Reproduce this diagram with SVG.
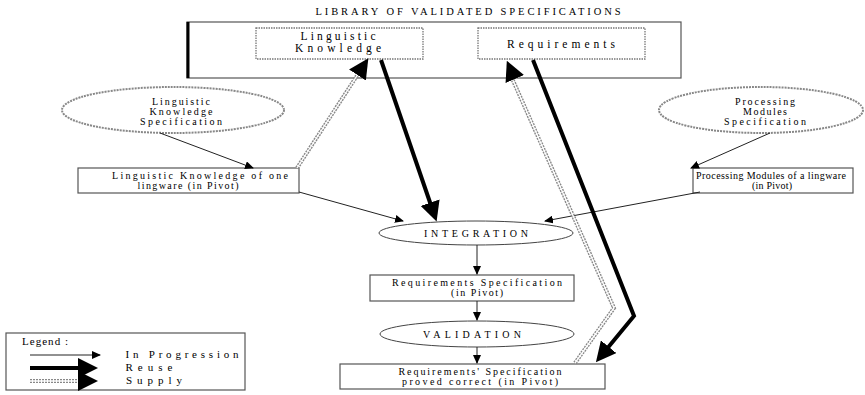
<svg xmlns="http://www.w3.org/2000/svg" width="865" height="395" viewBox="0 0 865 395">
  <defs>
    <style>
      text { font-family: "Liberation Serif", "Times New Roman", serif; fill: #000; text-anchor: middle; }
      .t9 { font-size: 10px; }
      .t10 { font-size: 11.5px; }
      .tl { font-size: 11px; }
      .box { fill: #fff; stroke: #555; stroke-width: 1.2; }
      .dotbox { fill: none; stroke: #777; stroke-width: 1.3; stroke-dasharray: 1.5 1; }
      .spec { fill: #fff; stroke: #888; stroke-width: 2; stroke-dasharray: 2 1; }
      .oval { fill: #fff; stroke: #444; stroke-width: 1; }
      .thin { fill: none; stroke: #222; stroke-width: 1; }
      .reuse { fill: none; stroke: #000; stroke-width: 4; }
      .supply { fill: none; stroke: #888; stroke-width: 4; stroke-dasharray: 2 1; }
      .supplyCore { fill: none; stroke: #fff; stroke-width: 1.3; }
    </style>
    <marker id="headThin" markerUnits="userSpaceOnUse" markerWidth="9" markerHeight="8" refX="8" refY="4" orient="auto">
      <path d="M0,0 L9,4 L0,8 z" fill="#000"/>
    </marker>
    <marker id="headBig" markerUnits="userSpaceOnUse" markerWidth="20" markerHeight="20" refX="12" refY="10" orient="auto">
      <path d="M0,0 L20,10 L0,20 z" fill="#000"/>
    </marker>
  </defs>

  <rect width="865" height="395" fill="#fff"/>

  <!-- library of validated specifications -->
  <g id="library">
    <text class="t9" x="468" y="15" style="font-size:10.5px" textLength="305" lengthAdjust="spacing">LIBRARY OF VALIDATED SPECIFICATIONS</text>
    <rect class="box" x="187" y="22" width="494" height="56"/>
    <line x1="188" y1="22" x2="188" y2="78" stroke="#000" stroke-width="3"/>
  </g>
  <g id="lib-linguistic">
    <rect class="dotbox" x="256" y="28" width="167" height="31"/>
    <text class="t10" x="338" y="40" textLength="75" lengthAdjust="spacing">Linguistic</text>
    <text class="t10" x="338" y="52" textLength="86" lengthAdjust="spacing">Knowledge</text>
  </g>
  <g id="lib-requirements">
    <rect class="dotbox" x="478" y="28" width="167" height="31"/>
    <text class="t10" x="561" y="48" textLength="108" lengthAdjust="spacing">Requirements</text>
  </g>

  <!-- specification ellipses -->
  <g id="ling-spec">
    <ellipse class="spec" cx="173" cy="110" rx="111" ry="23"/>
    <text class="t9" x="181" y="105" textLength="58" lengthAdjust="spacing">Linguistic</text>
    <text class="t9" x="181" y="115" textLength="63" lengthAdjust="spacing">Knowledge</text>
    <text class="t9" x="181" y="125" textLength="82" lengthAdjust="spacing">Specification</text>
  </g>
  <g id="proc-spec">
    <ellipse class="spec" cx="761" cy="110" rx="102" ry="23"/>
    <text class="t9" x="765" y="105" textLength="60" lengthAdjust="spacing">Processing</text>
    <text class="t9" x="765" y="115" textLength="44" lengthAdjust="spacing">Modules</text>
    <text class="t9" x="765" y="125" textLength="82" lengthAdjust="spacing">Specification</text>
  </g>

  <!-- pivot boxes -->
  <g id="ling-pivot">
    <rect class="box" x="78" y="168" width="221" height="25"/>
    <text class="t9" x="200" y="179" textLength="176" lengthAdjust="spacing">Linguistic Knowledge of one</text>
    <text class="t9" x="188" y="189" textLength="101" lengthAdjust="spacing">lingware (in Pivot)</text>
  </g>
  <g id="proc-pivot">
    <rect class="box" x="693" y="168" width="160" height="25"/>
    <text class="t9" x="771" y="179" textLength="150" lengthAdjust="spacing">Processing Modules of a lingware</text>
    <text class="t9" x="772" y="189" textLength="40" lengthAdjust="spacing">(in Pivot)</text>
  </g>

  <!-- central flow -->
  <g id="integration">
    <ellipse class="oval" cx="476" cy="233" rx="97" ry="12"/>
    <text class="t9" x="476" y="237" textLength="104" lengthAdjust="spacing">INTEGRATION</text>
  </g>
  <g id="req-spec">
    <rect class="box" x="370" y="275" width="204" height="26"/>
    <text class="t9" x="477" y="286" textLength="170" lengthAdjust="spacing">Requirements Specification</text>
    <text class="t9" x="477" y="296" textLength="52" lengthAdjust="spacing">(in Pivot)</text>
  </g>
  <g id="validation">
    <ellipse class="oval" cx="477" cy="334" rx="97" ry="13"/>
    <text class="t9" x="472" y="338" textLength="98" lengthAdjust="spacing">VALIDATION</text>
  </g>
  <g id="req-proved">
    <rect class="box" x="340" y="364" width="265" height="25"/>
    <text class="t9" x="480" y="375" textLength="163" lengthAdjust="spacing">Requirements' Specification</text>
    <text class="t9" x="480" y="385" textLength="156" lengthAdjust="spacing">proved correct (in Pivot)</text>
  </g>

  <!-- connectors -->
  <g id="connectors">
    <!-- in progression -->
    <path class="thin" d="M160,133 L253,168" marker-end="url(#headThin)"/>
    <path class="thin" d="M770,133 L691,168" marker-end="url(#headThin)"/>
    <path class="thin" d="M299,192 L403,221" marker-end="url(#headThin)"/>
    <path class="thin" d="M700,192 L545,221" marker-end="url(#headThin)"/>
    <path class="thin" d="M477,245 L477,274" marker-end="url(#headThin)"/>
    <path class="thin" d="M477,301 L477,320" marker-end="url(#headThin)"/>
    <path class="thin" d="M477,347 L477,363" marker-end="url(#headThin)"/>
    <!-- reuse -->
    <path class="reuse" d="M381,60 L434,214" marker-end="url(#headBig)"/>
    <path class="reuse" d="M533,60 L634,316 L601,356" marker-end="url(#headBig)"/>
    <!-- supply -->
    <path class="supply" d="M297,168 L362,68"/>
    <path class="supplyCore" d="M297,168 L362,68"/>
    <path d="M297,168 L364,65" fill="none" stroke="none" marker-end="url(#headBig)"/>
    <path class="supply" d="M575,363 L614,308 L511,76"/>
    <path class="supplyCore" d="M575,363 L614,308 L511,76"/>
    <path d="M614,308 L510,68" fill="none" stroke="none" marker-end="url(#headBig)"/>
  </g>

  <!-- legend -->
  <g id="legend">
    <rect class="box" x="6" y="333" width="239" height="57"/>
    <text class="tl" x="45" y="345" textLength="46" lengthAdjust="spacing">Legend :</text>
    <path class="thin" d="M30,355 L100,355" marker-end="url(#headThin)"/>
    <path class="reuse" d="M30,368 L90,368" marker-end="url(#headBig)"/>
    <path class="supply" d="M30,381 L80,381"/>
    <path class="supplyCore" d="M30,381 L80,381"/>
    <path d="M60,381 L90,381" fill="none" stroke="none" marker-end="url(#headBig)"/>
    <text class="tl" x="182" y="358" textLength="113" lengthAdjust="spacing">In Progression</text>
    <text class="tl" x="149" y="371" textLength="47" lengthAdjust="spacing">Reuse</text>
    <text class="tl" x="154" y="384" textLength="56" lengthAdjust="spacing">Supply</text>
  </g>
</svg>
